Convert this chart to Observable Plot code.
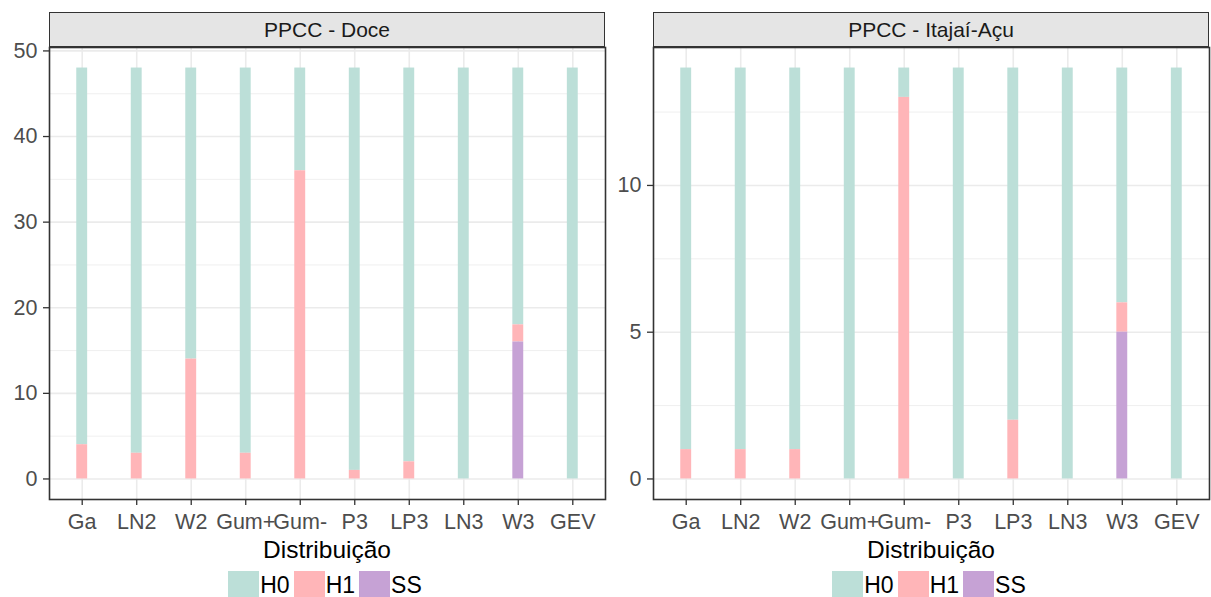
<!DOCTYPE html>
<html><head><meta charset="utf-8">
<script src="https://cdn.jsdelivr.net/npm/d3@7"></script>
<script src="https://cdn.jsdelivr.net/npm/@observablehq/plot@0.6"></script>
<style>
body{margin:0;background:#fff;font-family:"Liberation Sans",Arial,sans-serif;}
#wrap{position:relative;width:1211px;height:597px;overflow:hidden;background:#fff;}
.pnl{position:absolute;top:0;height:597px;}
.strip{position:absolute;top:12px;height:35px;box-sizing:border-box;background:#e5e5e5;border:1.6px solid #333;display:flex;align-items:center;justify-content:center;font-size:21px;color:#1a1a1a;}
.xtitle{position:absolute;top:535px;text-align:center;font-size:24.5px;color:#000;line-height:30px;}
.legend{position:absolute;top:571px;display:flex;justify-content:center;align-items:center;font-size:23px;color:#000;}
.key{width:31px;height:28px;display:inline-block;}
.lab{margin-left:1px;margin-right:4px;}
</style></head><body><div id="wrap"></div>
<script>
const categories = ["Ga","LN2","W2","Gum+","Gum-","P3","LP3","LN3","W3","GEV"];
const groups = ["H0","H1","SS"];
const colors = ["#bcdfd8","#ffb5b8","#c6a2d5"];

const doceH0 = [44,45,34,45,12,47,46,48,30,48];
const doceH1 = [4,3,14,3,36,1,2,0,2,0];
const doceSS = [0,0,0,0,0,0,0,0,16,0];

const itajaiH0 = [13,13,13,14,1,14,12,14,8,14];
const itajaiH1 = [1,1,1,0,13,0,2,0,1,0];
const itajaiSS = [0,0,0,0,0,0,0,0,5,0];

const doceTicks = [0,10,20,30,40,50];
const doceMinor = [5,15,25,35,45];
const itajaiTicks = [0,5,10];
const itajaiMinor = [2.5,7.5,12.5];

function makeRows(h0,h1,ss){
  const rows=[];
  categories.forEach((c,i)=>{
    rows.push({cat:c,group:"H0",value:h0[i]});
    rows.push({cat:c,group:"H1",value:h1[i]});
    rows.push({cat:c,group:"SS",value:ss[i]});
  });
  return rows;
}

const wrap = document.getElementById("wrap");

function panel({left,width,mL,mR,title,rows,yDomain,yTicks,yMinor}){
  const div = document.createElement("div");
  div.className="pnl";
  div.style.left=left+"px";
  div.style.width=width+"px";
  const H=540, mT=47, mB=41;
  const chart = Plot.plot({
    width, height:H, marginLeft:mL, marginRight:mR, marginTop:mT, marginBottom:mB,
    style:{fontFamily:"'Liberation Sans',Arial,sans-serif",background:"transparent",overflow:"visible"},
    x:{type:"band",domain:categories,paddingInner:0.8,paddingOuter:0.5,round:false,axis:null},
    y:{domain:yDomain,axis:null},
    color:{domain:groups,range:colors},
    marks:[
      Plot.gridY(yMinor,{stroke:"#ebebeb",strokeOpacity:1,strokeWidth:0.8}),
      Plot.gridY(yTicks,{stroke:"#ebebeb",strokeOpacity:1,strokeWidth:1.6}),
      Plot.gridX(categories,{stroke:"#ebebeb",strokeOpacity:1,strokeWidth:1.6}),
      Plot.barY(rows,{x:"cat",y:"value",fill:"group",order:["SS","H1","H0"]}),
      Plot.frame({stroke:"#333",strokeWidth:1.6}),
      Plot.axisY(yTicks,{label:null,tickSize:6,tickPadding:6,fontSize:21.5,stroke:"#333",strokeWidth:1.3,fill:"#4d4d4d"}),
      Plot.axisX(categories,{label:null,tickSize:6,tickPadding:8,fontSize:21.5,stroke:"#333",strokeWidth:1.3,fill:"#4d4d4d"})
    ]
  });
  div.appendChild(chart);
  const pw = width-mL-mR;
  const strip=document.createElement("div");
  strip.className="strip";
  strip.style.left=mL+"px"; strip.style.width=pw+"px";
  strip.textContent=title;
  div.appendChild(strip);
  const xt=document.createElement("div");
  xt.className="xtitle";
  xt.style.left=mL+"px"; xt.style.width=pw+"px";
  xt.textContent="Distribuição";
  div.appendChild(xt);
  const lg=document.createElement("div");
  lg.className="legend";
  lg.style.left=mL+"px"; lg.style.width=pw+"px";
  groups.forEach((g,i)=>{
    const k=document.createElement("span"); k.className="key"; k.style.background=colors[i];
    const t=document.createElement("span"); t.className="lab"; t.textContent=g;
    lg.appendChild(k); lg.appendChild(t);
  });
  div.appendChild(lg);
  wrap.appendChild(div);
}

panel({left:0,width:606,mL:49,mR:1,title:"PPCC - Doce",rows:makeRows(doceH0,doceH1,doceSS),yDomain:[-2.4,50.4],yTicks:doceTicks,yMinor:doceMinor});
panel({left:605,width:606,mL:48,mR:2,title:"PPCC - Itajaí-Açu",rows:makeRows(itajaiH0,itajaiH1,itajaiSS),yDomain:[-0.7,14.7],yTicks:itajaiTicks,yMinor:itajaiMinor});
</script></body></html>
